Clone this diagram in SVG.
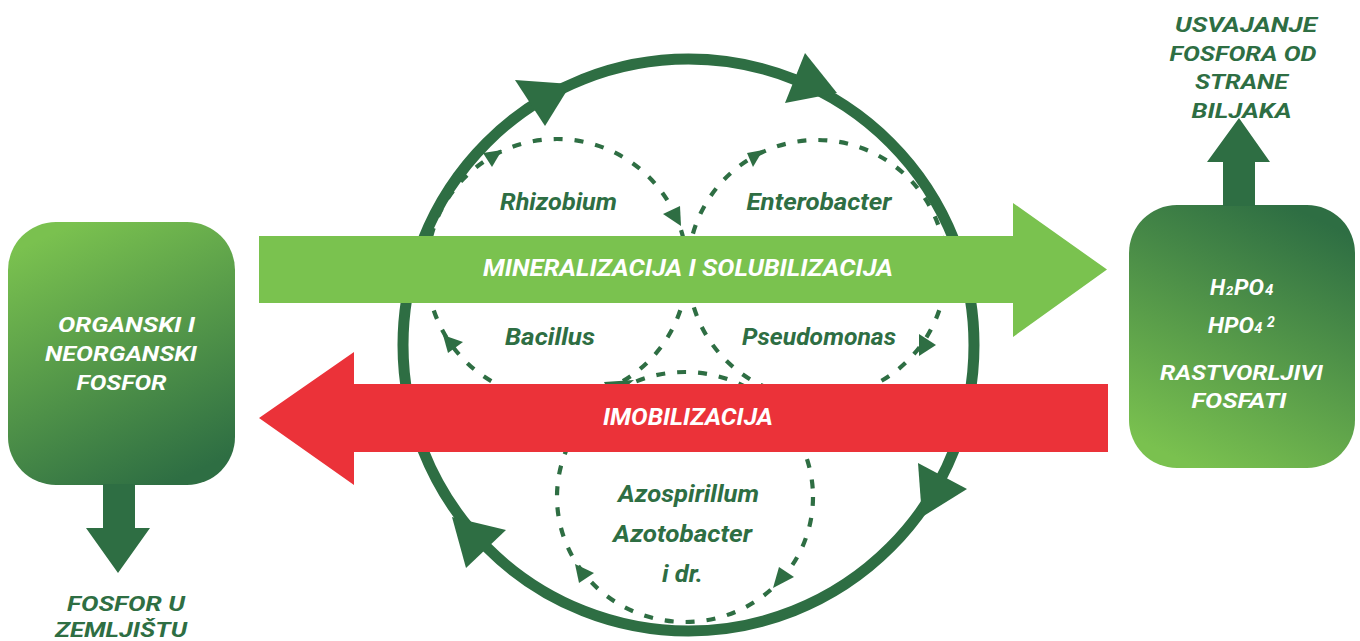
<svg xmlns="http://www.w3.org/2000/svg" width="1360" height="641" viewBox="0 0 1360 641">
<defs>
<linearGradient id="gradLeft" x1="0.3" y1="0" x2="0.7" y2="1">
<stop offset="0" stop-color="#7AC14F"/>
<stop offset="1" stop-color="#2E6E43"/>
</linearGradient>
<linearGradient id="gradRight" x1="0.7" y1="0" x2="0.3" y2="1">
<stop offset="0" stop-color="#2E6E43"/>
<stop offset="1" stop-color="#7AC14F"/>
</linearGradient>
<style>
.t{font-family:Roboto,'Liberation Sans',sans-serif;font-weight:700;font-style:italic;}
.w{fill:#FFFFFF;}
.g{fill:#2E6E43;}
.big{fill:none;stroke:#2E6E43;stroke-width:11;}
.dash{fill:none;stroke:#2E6E43;stroke-width:4.2;stroke-dasharray:9 12;}
.head{fill:#2E6E43;}
</style>
</defs>
<rect width="1360" height="641" fill="#FFFFFF"/>

<g id="connectors">
<ellipse class="big" cx="688.5" cy="345" rx="285.5" ry="286"/>
<polygon class="head" points="515,80 545,126 571,84"/>
<polygon class="head" points="805,53 785,103 837,93"/>
<polygon class="head" points="918,463 967,489 922,517"/>
<polygon class="head" points="506,530 466,568 452,517"/>
<circle class="dash" cx="557" cy="269" r="130"/>
<circle class="dash" cx="817" cy="269" r="129"/>
<ellipse class="dash" cx="685" cy="497" rx="128" ry="125"/>
<polygon class="head" points="483,153 492,167 502,150"/>
<polygon class="head" points="663,214 680,206 681,226"/>
<polygon class="head" points="463,342 448,353 443,335"/>
<polygon class="head" points="604,382 634,380 612,399"/>
<polygon class="head" points="747,153 753,167 763,150"/>
<polygon class="head" points="919,334 919,356 936,345"/>
<polygon class="head" points="594,573 579,583 575,564"/>
<polygon class="head" points="779,567 794,577 773,588"/>
</g>

<g id="mineralizacija">
<polygon fill="#7AC24F" points="259,236 1013,236 1013,203 1107,269.5 1013,337 1013,303 259,303"/>
<text class="t w" x="688" y="276" font-size="24" text-anchor="middle" textLength="410" lengthAdjust="spacingAndGlyphs">MINERALIZACIJA I SOLUBILIZACIJA</text>
</g>

<g id="imobilizacija">
<polygon fill="#EB3239" points="259,418 354,352 354,384 1108,384 1108,452 354,452 354,485"/>
<text class="t w" x="688" y="425" font-size="24" text-anchor="middle" textLength="170" lengthAdjust="spacingAndGlyphs">IMOBILIZACIJA</text>
</g>

<g id="rhizobium">
<text class="t g" x="558.5" y="210" font-size="23" text-anchor="middle" textLength="117" lengthAdjust="spacingAndGlyphs">Rhizobium</text>
</g>
<g id="enterobacter">
<text class="t g" x="819" y="210" font-size="23" text-anchor="middle" textLength="145" lengthAdjust="spacingAndGlyphs">Enterobacter</text>
</g>
<g id="bacillus">
<text class="t g" x="550" y="345" font-size="23" text-anchor="middle" textLength="90" lengthAdjust="spacingAndGlyphs">Bacillus</text>
</g>
<g id="pseudomonas">
<text class="t g" x="819" y="345" font-size="23" text-anchor="middle" textLength="154" lengthAdjust="spacingAndGlyphs">Pseudomonas</text>
</g>
<g id="azospirillum">
<text class="t g" x="688.5" y="502" font-size="23" text-anchor="middle" textLength="141" lengthAdjust="spacingAndGlyphs">Azospirillum</text>
<text class="t g" x="682.5" y="542" font-size="23" text-anchor="middle" textLength="139" lengthAdjust="spacingAndGlyphs">Azotobacter</text>
<text class="t g" x="682.5" y="582" font-size="23" text-anchor="middle" textLength="41" lengthAdjust="spacingAndGlyphs">i dr.</text>
</g>

<g id="organski-fosfor">
<rect x="8" y="222" width="227" height="263" rx="48" fill="url(#gradLeft)"/>
<polygon fill="#2E6E43" points="103,484 135,484 135,528 150,528 118,573 86,528 103,528"/>
<text class="t w" x="126.5" y="332" font-size="21" text-anchor="middle" textLength="137" lengthAdjust="spacingAndGlyphs">ORGANSKI I</text>
<text class="t w" x="121" y="361" font-size="21" text-anchor="middle" textLength="152" lengthAdjust="spacingAndGlyphs">NEORGANSKI</text>
<text class="t w" x="121.5" y="390" font-size="21" text-anchor="middle" textLength="90" lengthAdjust="spacingAndGlyphs">FOSFOR</text>
</g>

<g id="fosfor-u-zemljistu">
<text class="t g" x="126" y="611" font-size="21" text-anchor="middle" textLength="118" lengthAdjust="spacingAndGlyphs">FOSFOR U</text>
<text class="t g" x="121" y="637" font-size="21" text-anchor="middle" textLength="132" lengthAdjust="spacingAndGlyphs">ZEMLJIŠTU</text>
</g>

<g id="rastvorljivi-fosfati">
<rect x="1129" y="205" width="226" height="263" rx="48" fill="url(#gradRight)"/>
<polygon fill="#2E6E43" points="1223,206 1223,162 1207,162 1239,118 1270,162 1255,162 1255,206"/>
<text class="t w" font-size="22"><tspan x="1210" y="295">H</tspan><tspan x="1226" y="295" font-size="13">2</tspan><tspan x="1234" y="295" textLength="30" lengthAdjust="spacingAndGlyphs">PO</tspan><tspan x="1265" y="295" font-size="15">4</tspan></text>
<text class="t w" font-size="22"><tspan x="1208" y="333" textLength="46" lengthAdjust="spacingAndGlyphs">HPO</tspan><tspan x="1254" y="333" font-size="15">4</tspan><tspan x="1267" y="327" font-size="14">2</tspan></text>
<text class="t w" x="1241.5" y="380" font-size="21" text-anchor="middle" textLength="163" lengthAdjust="spacingAndGlyphs">RASTVORLJIVI</text>
<text class="t w" x="1239" y="408" font-size="21" text-anchor="middle" textLength="95" lengthAdjust="spacingAndGlyphs">FOSFATI</text>
</g>

<g id="usvajanje">
<text class="t g" x="1246" y="32" font-size="21" text-anchor="middle" textLength="142" lengthAdjust="spacingAndGlyphs">USVAJANJE</text>
<text class="t g" x="1243" y="61" font-size="21" text-anchor="middle" textLength="147" lengthAdjust="spacingAndGlyphs">FOSFORA OD</text>
<text class="t g" x="1241.5" y="89" font-size="21" text-anchor="middle" textLength="93" lengthAdjust="spacingAndGlyphs">STRANE</text>
<text class="t g" x="1241.5" y="118" font-size="21" text-anchor="middle" textLength="100" lengthAdjust="spacingAndGlyphs">BILJAKA</text>
</g>
</svg>
